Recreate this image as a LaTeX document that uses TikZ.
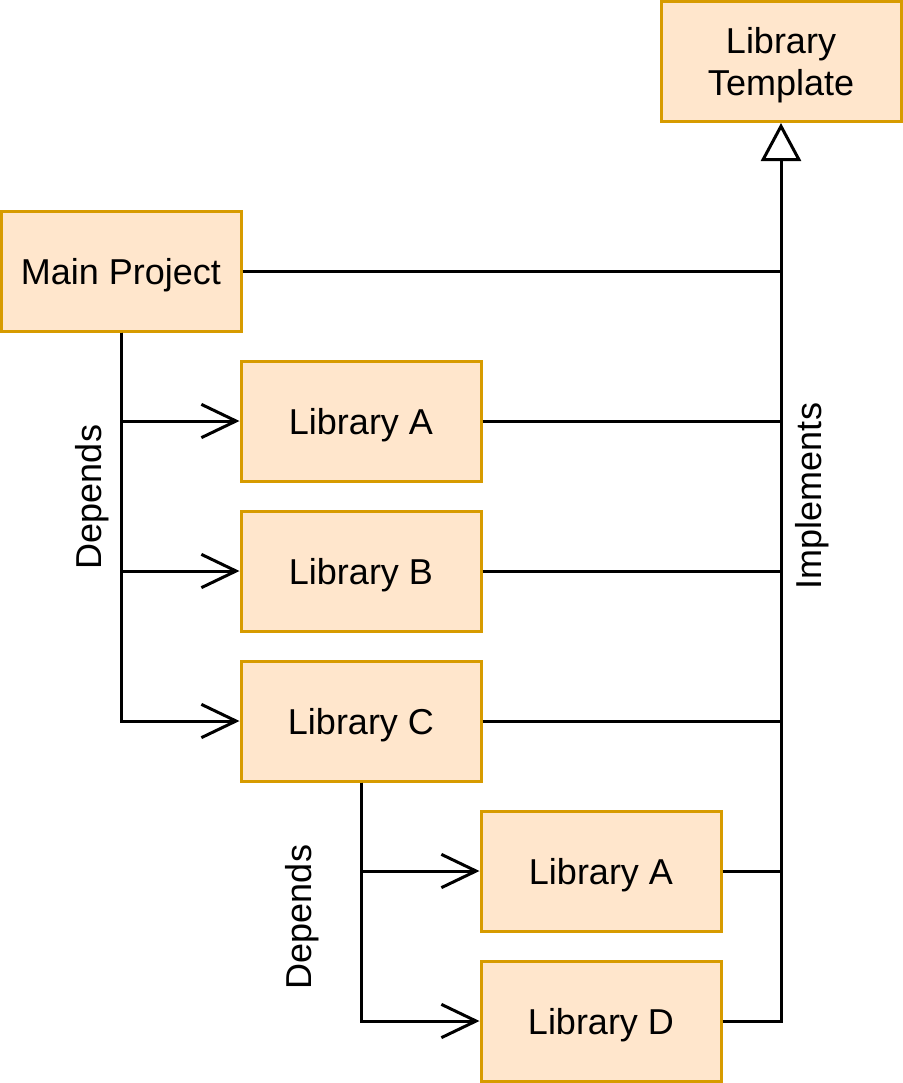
\documentclass[tikz,border=0pt]{standalone}
\usepackage{fontspec}
\setmainfont{Liberation Sans}
\usetikzlibrary{arrows.meta}
\begin{document}
\begin{tikzpicture}[x=0.75pt,y=-0.75pt,
  box/.style={draw={rgb,255:red,215;green,155;blue,0},fill={rgb,255:red,255;green,230;blue,204},line width=2.25pt,minimum width=180pt,minimum height=90pt,inner sep=0pt,align=center,text depth=0pt,font=\fontsize{27}{31}\selectfont},
  conn/.style={line width=2.25pt},
  dep/.style={conn,-{Straight Barb[length=26pt,width=25pt,line width=2.25pt]}},
  impl/.style={conn,-{Triangle[open,length=28.5pt,width=30pt,line width=2.25pt,fill=white]}},
  lbl/.style={font=\fontsize{27}{31}\selectfont,rotate=90,inner sep=0pt}]
\useasboundingbox (0,0) rectangle (903,1083);
\node[box] (LT) at (781,61.5) {Library\\Template};
\node[box] (MP) at (121,271) {Main Project};
\node[box] (LA) at (361,421) {Library A};
\node[box] (LB) at (361,571) {Library B};
\node[box] (LC) at (361,721) {Library C};
\node[box] (LA2) at (601,871) {Library A};
\node[box] (LD) at (601,1021) {Library D};
% implements
\draw[impl] (LD.east) -| (LT.south);
\draw[conn] (MP.east) -- (MP.east -| LT.south);
\draw[conn] (LA.east) -- (LA.east -| LT.south);
\draw[conn] (LB.east) -- (LB.east -| LT.south);
\draw[conn] (LC.east) -- (LC.east -| LT.south);
\draw[conn] (LA2.east) -- (LA2.east -| LT.south);
% depends
\draw[dep] (MP.south) |- (LA.west);
\draw[dep] (MP.south) |- (LB.west);
\draw[dep] (MP.south) |- (LC.west);
\draw[dep] (LC.south) |- (LA2.west);
\draw[dep] (LC.south) |- (LD.west);
\node[lbl] (d1) at (92,497) {Depends};
\node[lbl] (d2) at (302,917) {Depends};
\node[lbl] (im) at (812,496) {Implements};
\end{tikzpicture}
\end{document}
